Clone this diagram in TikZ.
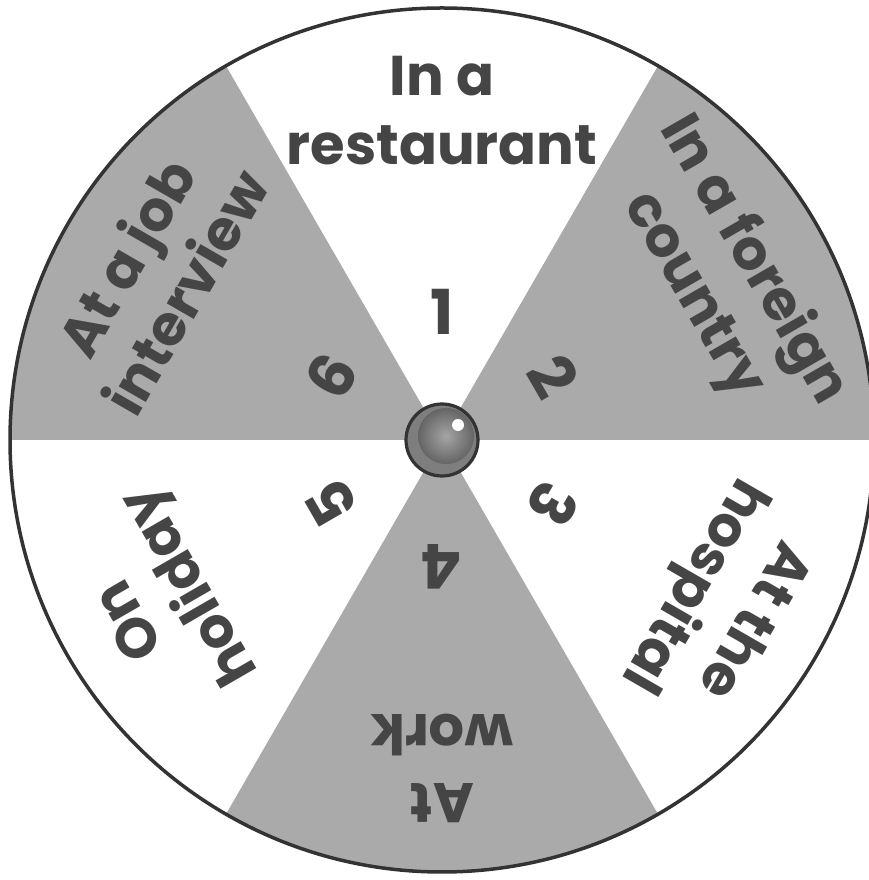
\documentclass[tikz,border=0pt]{standalone}
\usepackage{fontspec}
\setmainfont{Poppins}
\usetikzlibrary{calc}
\definecolor{sectorgray}{HTML}{AAAAAA}
\definecolor{inkgray}{HTML}{454545}
\definecolor{rimgray}{HTML}{333333}
\definecolor{knobgray}{HTML}{7E7E7E}
\tikzset{
  lbl/.style={text=inkgray, font=\fontsize{56}{60}\selectfont\bfseries, inner sep=0pt, anchor=base},
  numlbl/.style={lbl, font=\fontsize{62}{66}\selectfont\bfseries},
  graysector/.style={fill=sectorgray},
  rim/.style={draw=rimgray, line width=3.5pt},
}
\begin{document}
\begin{tikzpicture}[x=1pt,y=1pt]
\useasboundingbox (0,0) rectangle (869,880);
\fill[white] (0,0) rectangle (869,880);
\coordinate (c) at (442,440);
% gray sectors
\foreach \a in {0,120,240}{
  \fill[graysector] (c) -- ++(\a:432) arc[start angle=\a, end angle=\a+60, radius=432] -- cycle;
}
% rim
\draw[rim] (c) circle[radius=432];
% sector labels: outer line, inner line
\foreach \ang/\one/\two [count=\i] in {90/In a/restaurant, 30/In a foreign/country, -30/At the/hospital, -90/At/work, 210/On/holiday, 150/At a job/interview}{
  \pgfmathsetmacro{\rot}{\ang-90}
  \node[lbl, rotate=\rot] (o\i) at ($(c)+(\ang:344)$) {\one};
  \node[lbl, rotate=\rot] (t\i) at ($(c)+(\ang:275)$) {\two};
}
% numbers
\foreach \ang/\num in {90/1, 30/2, -30/3, -90/4, 210/5, 150/6}{
  \pgfmathsetmacro{\rot}{\ang-90}
  \node[numlbl, rotate=\rot] (n\num) at ($(c)+(\ang:105)$) {\num};
}
% knob
\fill[knobgray] (c) circle[radius=36];
\shade[inner color=knobgray!70!white, outer color=knobgray!80!black] ($(c)+(4,4)$) circle[radius=28];
\draw[draw=rimgray, line width=3.2pt] (c) circle[radius=36];
\fill[white] ($(c)+(16,15)$) circle[radius=6];
\end{tikzpicture}
\end{document}
